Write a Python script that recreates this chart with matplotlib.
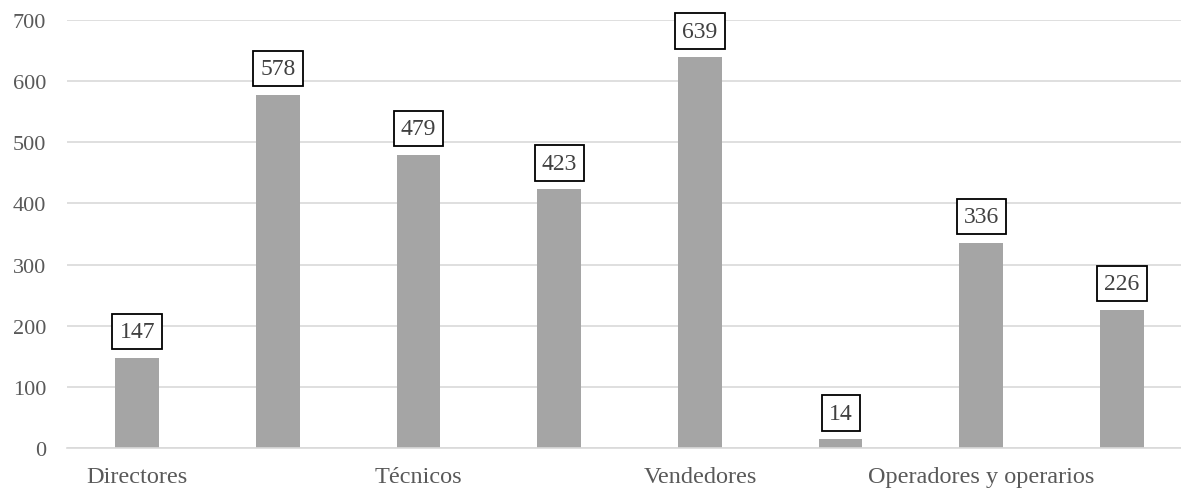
import matplotlib
matplotlib.use("Agg")
import matplotlib.pyplot as plt

# the chart's data: eight bars, only every other category is labelled on the axis
values = [147, 578, 479, 423, 639, 14, 336, 226]
tick_pos = [0, 2, 4, 6]
tick_labels = ["Directores", "Técnicos", "Vendedores", "Operadores y operarios"]
yticks = [0, 100, 200, 300, 400, 500, 600, 700]

plt.rcParams["font.family"] = ["Liberation Serif", "DejaVu Serif"]

fig = plt.figure(figsize=(11.81, 4.89), dpi=100)
ax = fig.add_axes([0.0567, 0.0818, 0.9433, 0.875])

x = list(range(len(values)))
ax.bar(x, values, width=0.31, color="#a5a5a5", zorder=2)

for xi, v in zip(x, values):
    ax.annotate(str(v), (xi, v), xytext=(0, 19), textcoords="offset points",
                ha="center", va="center", fontsize=17, color="#404040",
                bbox=dict(boxstyle="square,pad=0.3", fc="white", ec="black", lw=1.3),
                zorder=3)

ax.set_xlim(-0.5, 7.42)
ax.set_ylim(0, 700)
ax.set_yticks(yticks)
ax.set_yticklabels([str(t) for t in yticks])
ax.set_xticks(tick_pos)
ax.set_xticklabels(tick_labels)
ax.grid(axis="y", color="#d9d9d9", lw=1.2, zorder=0)
for s in ["top", "right", "left"]:
    ax.spines[s].set_visible(False)
ax.spines["bottom"].set_color("#d9d9d9")
ax.spines["bottom"].set_linewidth(1.2)
ax.tick_params(axis="both", length=0, labelcolor="#595959")
ax.tick_params(axis="x", pad=13, labelsize=17.5)
ax.tick_params(axis="y", pad=15, labelsize=16)

fig.savefig("out.png", dpi=100)
